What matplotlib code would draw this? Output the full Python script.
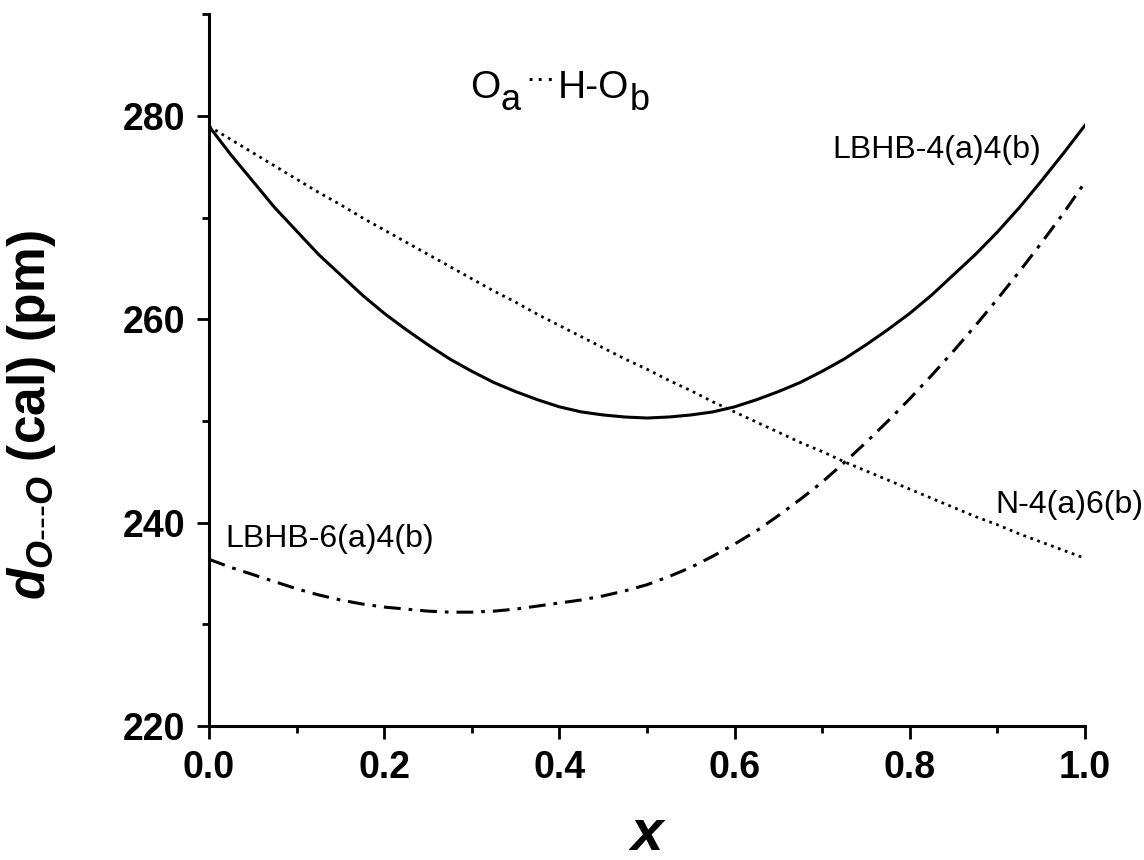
import matplotlib
matplotlib.use('Agg')
from matplotlib import pyplot as plt
from matplotlib.ticker import MultipleLocator, FormatStrFormatter

# x positions (mole fraction)
x_vals = [0.0, 0.025, 0.05, 0.075, 0.1, 0.125, 0.15, 0.175, 0.2, 0.225,
          0.25, 0.275, 0.3, 0.325, 0.35, 0.375, 0.4, 0.425, 0.45, 0.475,
          0.5, 0.525, 0.55, 0.575, 0.6, 0.625, 0.65, 0.675, 0.7, 0.725,
          0.75, 0.775, 0.8, 0.825, 0.85, 0.875, 0.9, 0.925, 0.95, 0.975, 1.0]
# LBHB-4(a)4(b), solid
lbhb44 = [279.0, 276.2, 273.6, 271.0, 268.7, 266.4, 264.4, 262.4, 260.6, 259.0,
          257.5, 256.1, 254.9, 253.8, 252.9, 252.1, 251.4, 250.9, 250.6, 250.4,
          250.3, 250.4, 250.6, 250.9, 251.4, 252.1, 252.9, 253.8, 254.9, 256.1,
          257.5, 259.0, 260.6, 262.4, 264.4, 266.4, 268.6, 271.0, 273.6, 276.3, 279.1]
# N-4(a)6(b), dotted
n46 = [279.0, 277.7, 276.4, 275.1, 273.8, 272.5, 271.3, 270.0, 268.8, 267.6,
       266.4, 265.2, 264.0, 262.8, 261.7, 260.5, 259.4, 258.3, 257.2, 256.1,
       255.1, 254.0, 253.0, 251.9, 250.9, 249.9, 248.9, 247.9, 247.0, 246.0,
       245.1, 244.2, 243.3, 242.4, 241.5, 240.6, 239.8, 238.9, 238.1, 237.3, 236.5]
# LBHB-6(a)4(b), dash-dot
lbhb64 = [236.4, 235.6, 234.9, 234.2, 233.5, 232.9, 232.4, 232.0, 231.7, 231.5,
          231.3, 231.2, 231.2, 231.3, 231.5, 231.8, 232.1, 232.4, 232.8, 233.3,
          233.9, 234.7, 235.6, 236.7, 237.9, 239.2, 240.7, 242.3, 244.0, 245.9,
          247.9, 250.0, 252.2, 254.5, 256.9, 259.4, 262.0, 264.7, 267.5, 270.4, 273.5]

plt.rcParams['font.family'] = ['Liberation Sans', 'DejaVu Sans']
plt.rcParams['mathtext.fontset'] = 'custom'
plt.rcParams['mathtext.rm'] = 'Liberation Sans'
plt.rcParams['mathtext.it'] = 'Liberation Sans:bold:italic'
plt.rcParams['mathtext.bf'] = 'Liberation Sans:bold'

fig = plt.figure(figsize=(11.44, 8.6), dpi=100)
ax = fig.add_axes([209 / 1144, 134 / 860, 876 / 1144, 711.5 / 860])

ax.plot(x_vals, lbhb44, color='black', lw=2.2, ls='-')
ax.plot(x_vals, n46, color='black', lw=2.0, ls=':')
ax.plot(x_vals, lbhb64, color='black', lw=2.2, ls=(0, (5.5, 2.6, 1.2, 2.6)))

ax.set_xlim(0, 1)
ax.set_ylim(220, 290)
ax.spines['top'].set_visible(False)
ax.spines['right'].set_visible(False)
for s in ['left', 'bottom']:
    ax.spines[s].set_linewidth(2.2)
ax.xaxis.set_major_locator(MultipleLocator(0.2))
ax.xaxis.set_minor_locator(MultipleLocator(0.1))
ax.xaxis.set_major_formatter(FormatStrFormatter('%.1f'))
ax.yaxis.set_major_locator(MultipleLocator(20))
ax.yaxis.set_minor_locator(MultipleLocator(10))
ax.tick_params(which='major', direction='out', length=9, width=2.0, pad=8,
               labelsize=27)
ax.tick_params(which='minor', direction='out', length=5, width=2.0)
for lab in ax.get_xticklabels() + ax.get_yticklabels():
    lab.set_fontweight('bold')

# curve labels, placed in figure pixels
def fig_txt(s, px, py, size, **kw):
    fig.text(px / 1144, 1 - py / 860, s, fontsize=size, ha='left', va='baseline', **kw)

fig_txt('LBHB-4(a)4(b)', 832, 158, 23)
fig_txt('N-4(a)6(b)', 995, 513, 23)
fig_txt('LBHB-6(a)4(b)', 225, 547, 23)

# O_a...H-O_b
fig_txt('O', 470, 98, 28)
fig_txt('a', 500, 110, 26)
fig_txt('\u00b7\u00b7\u00b7', 525, 88, 22)
fig_txt('H-O', 558, 98, 28)
fig_txt('b', 630, 110, 26)

fig.text(647 / 1144, 1 - 850 / 860, 'x', fontsize=42, fontweight='bold',
         fontstyle='italic', ha='center', va='baseline')
fig.text(32 / 1144, 1 - 415 / 860, '$d_{O\u2010\u2010\u2010O}$ (cal) (pm)',
         fontsize=37, fontweight='bold', rotation=90, ha='center', va='center')

fig.savefig('out.png', dpi=100)
